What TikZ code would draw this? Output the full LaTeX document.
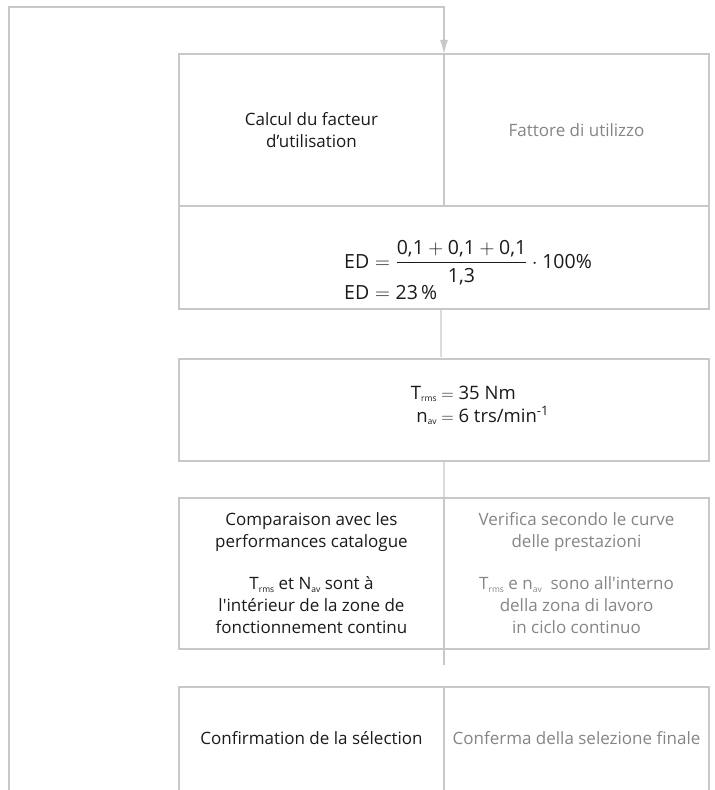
\documentclass[tikz,border=0pt]{standalone}
\usepackage{fontspec}
\setmainfont{Open Sans}
\usepackage{amsmath}
\usepackage{tikz}
\usetikzlibrary{arrows.meta}

\definecolor{rulegray}{HTML}{C8C8C8}
\definecolor{textgray}{HTML}{858585}
\definecolor{textblack}{HTML}{1A1A1A}

\newcommand\lowidx[1]{\raisebox{-2.5bp}{\fontsize{8.5bp}{8.5bp}\selectfont #1}}

\tikzset{
  frame/.style={draw=rulegray, line width=1.2bp},
  link/.style={draw=rulegray, line width=1.2bp},
  cellfr/.style={minimum width=265bp, outer sep=0pt, inner sep=0pt, align=center, text=textblack},
  cellit/.style={cellfr, text=textgray},
  wide/.style={frame, minimum width=530bp, outer sep=0pt, inner sep=0pt},
  bigtext/.style={text=textblack, font=\fontsize{18.5bp}{23bp}\selectfont},
}

\begin{document}
\begin{tikzpicture}[x=1bp, y=-1bp, font=\fontsize{17bp}{22bp}\selectfont]
  \useasboundingbox (0,0) rectangle (715,790);

  \node[frame, cellfr, minimum height=152bp] (calc) at (311.5,130)
    {Calcul du facteur\\d'utilisation};
  \node[frame, cellit, minimum height=152bp, anchor=west] (fatt) at (calc.east)
    {Fattore di utilizzo};

  \node[wide, minimum height=103bp, anchor=north west] (edbox) at (calc.south west) {};
  \node[bigtext, font=\fontsize{19.5bp}{24bp}\selectfont, align=left] (ed) at (468,270)
    {$\text{ED} = \dfrac{\text{0,1} + \text{0,1} + \text{0,1}}{\text{1,3}} \cdot \text{100\%}$\\[0bp]
     $\text{ED} = \text{23\,\%}$};

  \node[wide, minimum height=102bp] (trms) at (444,410) {};
  \node[bigtext] (trmstxt) at (480,406)
    {\begin{tabular}{@{}r@{}l@{}}
       T\lowidx{rms} & ${}={}$35 Nm\\
       n\lowidx{av} & ${}={}$6 trs/min\textsuperscript{-1}
     \end{tabular}};

  \node[frame, cellfr, minimum height=151bp] (cmpfr) at (311.5,573.5)
    {Comparaison avec les\\performances catalogue\\[20bp]
     T\lowidx{rms} et N\lowidx{av} sont à\\
     l\textquotesingle intérieur de la zone de\\fonctionnement continu};
  \node[frame, cellit, minimum height=151bp, anchor=west] (cmpit) at (cmpfr.east)
    {Verifica secondo le curve\\delle prestazioni\\[20bp]
     T\lowidx{rms} e n\lowidx{av}\ \ sono all\textquotesingle interno\\
     della zona di lavoro\\in ciclo continuo};

  \node[cellfr, minimum height=103bp, anchor=north] (conffr) at (311.5,687)
    {Confirmation de la sélection};
  \node[cellit, minimum height=103bp, anchor=west] (confit) at (conffr.east)
    {Conferma della selezione finale};
  \draw[link] (conffr.south west) -- (conffr.north west) -- (confit.north east)
    -- (confit.south east);
  \draw[link] (conffr.north east) -- (conffr.south east);

  \draw[link, shorten >=2bp] ([xshift=-3bp]edbox.south) -- ([xshift=-3bp]trms.north);
  \draw[link] (trms.south) -- (cmpfr.north east);
  \draw[link] (cmpfr.south east) -- ++(0,16);

  \coordinate (loopin) at (9,790);
  \draw[link, -{Latex[length=14bp, width=8bp]}] (loopin) |- (calc.north east |- 0,7)
    -- (calc.north east);
\end{tikzpicture}
\end{document}
